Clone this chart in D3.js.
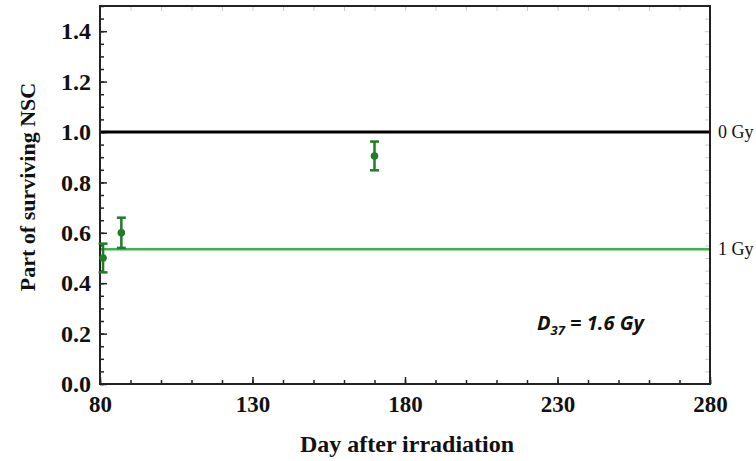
<!DOCTYPE html>
<html>
<head>
<meta charset="utf-8">
<script src="https://cdn.jsdelivr.net/npm/d3@7"></script>
<style>
  body { margin: 0; background: #fff; }
  svg { display: block; }
</style>
</head>
<body>
<div id="chart"></div>
<script>
// data
const days = [81, 87, 170];
const survival = [0.50, 0.60, 0.905];
const errors = [0.057, 0.06, 0.057];
const refLevels = [1.0, 0.535];
const refLabels = ["0 Gy", "1 Gy"];
const refColors = ["#000000", "#3fb34a"];
const xTicks = [80, 130, 180, 230, 280];
const yTicks = [0.0, 0.2, 0.4, 0.6, 0.8, 1.0, 1.2, 1.4];

const width = 756, height = 461;
const margin = { left: 100, right: 46, top: 6, bottom: 77 };
const innerWidth = width - margin.left - margin.right,
      innerHeight = height - margin.top - margin.bottom;

const svg = d3.select("#chart").append("svg")
    .attr("width", width)
    .attr("height", height);

const g = svg.append("g")
    .attr("transform", "translate(" + margin.left + "," + margin.top + ")");

const xScale = d3.scaleLinear().domain([80, 280]).range([0, innerWidth]);
const yScale = d3.scaleLinear().domain([0, 1.5]).range([innerHeight, 0]);

const serif = "'Liberation Serif', 'Times New Roman', serif";

// tick-only axes: drop domain and the empty labels
function ticksOnly(a, color, w) {
    a.select(".domain").remove();
    a.selectAll("text").remove();
    a.selectAll("line").attr("stroke", color).attr("stroke-width", w);
}

// faint ticks on top and right
g.append("g")
    .call(d3.axisTop(xScale).tickValues(d3.range(80, 281, 10)).tickSize(-5))
    .call(ticksOnly, "#ccc", 1);

g.append("g").attr("transform", "translate(" + innerWidth + ",0)")
    .call(d3.axisRight(yScale).tickValues(d3.range(0, 1.501, 0.05)).tickSize(-5))
    .call(ticksOnly, "#ccc", 1);

// minor ticks bottom/left
g.append("g").attr("transform", "translate(0," + innerHeight + ")")
    .call(d3.axisBottom(xScale).tickValues(d3.range(80, 281, 10)).tickSize(-4))
    .call(ticksOnly, "#222", 1.5);

g.append("g")
    .call(d3.axisLeft(yScale).tickValues(d3.range(0, 1.501, 0.05)).tickSize(-4))
    .call(ticksOnly, "#222", 1.5);

// major axes
const xAxis = g.append("g")
    .attr("transform", "translate(0," + innerHeight + ")")
    .call(d3.axisBottom(xScale).tickValues(xTicks).tickSize(-7).tickPadding(12).tickFormat(d3.format("d")));
xAxis.select(".domain").remove();
xAxis.selectAll("line").attr("stroke", "#222").attr("stroke-width", 1.5);
xAxis.selectAll("text")
    .attr("font-family", serif).attr("font-weight", "bold").attr("font-size", 23).attr("fill", "#111");

const yAxis = g.append("g")
    .call(d3.axisLeft(yScale).tickValues(yTicks).tickSize(-7).tickPadding(9).tickFormat(d3.format(".1f")));
yAxis.select(".domain").remove();
yAxis.selectAll("line").attr("stroke", "#222").attr("stroke-width", 1.5);
yAxis.selectAll("text")
    .attr("font-family", serif).attr("font-weight", "bold").attr("font-size", 24).attr("fill", "#111");

// reference lines
g.selectAll(".ref").data(refLevels).enter().append("line")
    .attr("class", "ref")
    .attr("x1", 0).attr("x2", innerWidth)
    .attr("y1", d => yScale(d)).attr("y2", d => yScale(d))
    .attr("stroke", (d, i) => refColors[i])
    .attr("stroke-width", (d, i) => i === 0 ? 3 : 2.5);

g.selectAll(".refLabel").data(refLevels).enter().append("text")
    .attr("x", innerWidth + 8)
    .attr("y", d => yScale(d))
    .attr("dy", "0.35em")
    .attr("font-family", serif).attr("font-size", 18).attr("fill", "#111")
    .text((d, i) => refLabels[i]);

// frame
g.append("rect")
    .attr("width", innerWidth).attr("height", innerHeight)
    .attr("fill", "none").attr("stroke", "#222").attr("stroke-width", 2);

// error bars and points
const pts = days.map((d, i) => ({ x: d, y: survival[i], e: errors[i] }));
const green = "#1f7d26";
const eb = g.selectAll(".pt").data(pts).enter().append("g").attr("class", "pt");
eb.append("line")
    .attr("x1", d => xScale(d.x)).attr("x2", d => xScale(d.x))
    .attr("y1", d => yScale(d.y - d.e)).attr("y2", d => yScale(d.y + d.e))
    .attr("stroke", green).attr("stroke-width", 2.5);
[-1, 1].forEach(s => {
    eb.append("line")
        .attr("x1", d => xScale(d.x) - 4.5).attr("x2", d => xScale(d.x) + 4.5)
        .attr("y1", d => yScale(d.y + s * d.e)).attr("y2", d => yScale(d.y + s * d.e))
        .attr("stroke", green).attr("stroke-width", 2.5);
});
eb.append("circle")
    .attr("cx", d => xScale(d.x)).attr("cy", d => yScale(d.y))
    .attr("r", 3.8).attr("fill", green);

// annotation
const ann = svg.append("text")
    .attr("x", 537).attr("y", 330)
    .attr("font-family", "'Open Sans', 'Liberation Sans', sans-serif")
    .attr("font-weight", "bold").attr("font-style", "italic")
    .attr("font-size", 20).attr("fill", "#111");
ann.append("tspan").text("D");
ann.append("tspan").attr("font-size", 13).attr("dy", 5).text("37");
ann.append("tspan").attr("dy", -5).text(" = 1.6 Gy");

// axis titles
svg.append("text")
    .attr("x", 407).attr("y", 452)
    .attr("text-anchor", "middle")
    .attr("font-family", serif).attr("font-weight", "bold").attr("font-size", 24).attr("fill", "#111")
    .text("Day after irradiation");

svg.append("text")
    .attr("transform", "translate(35,187) rotate(-90)")
    .attr("text-anchor", "middle")
    .attr("font-family", serif).attr("font-weight", "bold").attr("font-size", 22).attr("fill", "#111")
    .text("Part of surviving NSC");
</script>
</body>
</html>
